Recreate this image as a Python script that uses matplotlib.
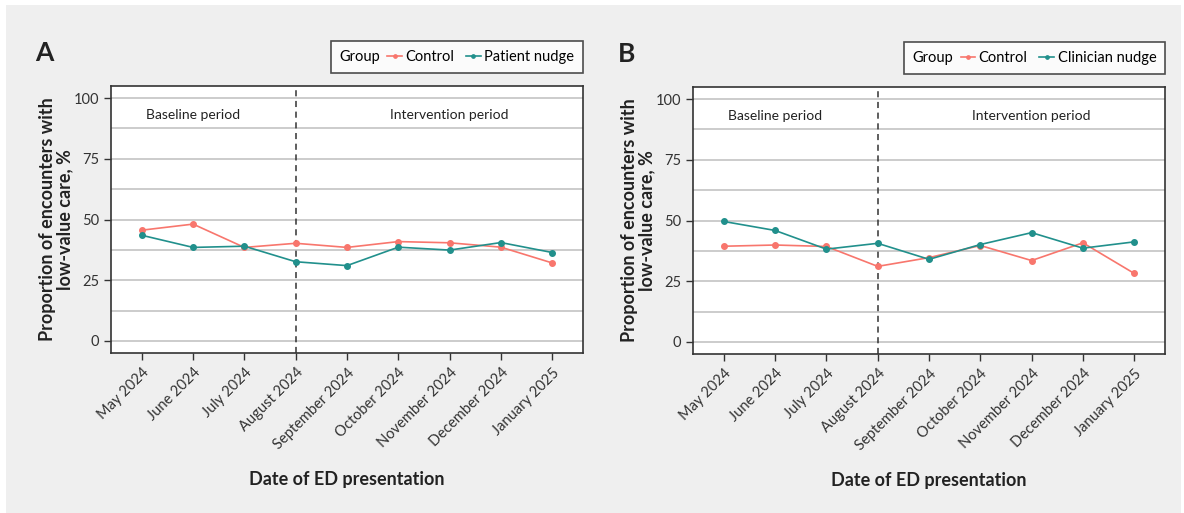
import matplotlib
matplotlib.use("Agg")
import matplotlib.pyplot as plt
from matplotlib.patches import Rectangle
from matplotlib.offsetbox import HPacker

plt.rcParams['font.family'] = ['Lato', 'DejaVu Sans']

# data
months = ["May 2024", "June 2024", "July 2024", "August 2024", "September 2024",
          "October 2024", "November 2024", "December 2024", "January 2025"]

control_a = [45.6, 48.1, 38.5, 40.2, 38.5, 40.9, 40.4, 38.6, 32.1]
patient_nudge = [43.5, 38.5, 39.0, 32.6, 31.0, 38.6, 37.4, 40.5, 36.4]

control_b = [39.4, 39.9, 39.3, 31.1, 34.7, 39.7, 33.5, 40.8, 28.2]
clinician_nudge = [49.6, 45.9, 38.2, 40.6, 34.0, 40.1, 45.0, 38.6, 41.2]

RED = "#F8766D"
TEAL = "#21908C"
W, H = 1184, 513

fig = plt.figure(figsize=(W / 100, H / 100), dpi=100, facecolor="white")
fig.patches.append(Rectangle((6 / W, 0), 1 - 9 / W, 1 - 5 / H, transform=fig.transFigure,
                             facecolor="#efefef", edgecolor="none", zorder=-10))


def panel(rect, letter, ctrl, nudge, nudge_name):
    ax = fig.add_axes(rect)
    ax.set_facecolor("white")
    x = list(range(len(months)))
    for yv in [0, 12.5, 25, 37.5, 50, 62.5, 75, 87.5, 100]:
        ax.axhline(yv, color="#cccccc", lw=1.4, zorder=0)
    ax.axvline(3, color="#333333", lw=1.1, ls=(0, (4, 3)), zorder=1)
    l1, = ax.plot(x, ctrl, color=RED, lw=1.2, marker="o", ms=4, label="Control", zorder=3)
    l2, = ax.plot(x, nudge, color=TEAL, lw=1.2, marker="o", ms=4, label=nudge_name, zorder=3)
    ax.text(1, 93, "Baseline period", ha="center", va="center", fontsize=10, color="#222222")
    ax.text(6, 93, "Intervention period", ha="center", va="center", fontsize=10, color="#222222")
    ax.set_xlim(-0.6, 8.6)
    ax.set_ylim(-5, 105)
    ax.set_yticks([0, 25, 50, 75, 100])
    ax.set_xticks(x)
    ax.set_xticklabels(months, rotation=45, ha="right", rotation_mode="anchor")
    ax.tick_params(axis="both", labelsize=10.5, colors="#333333", length=5, width=1)
    ax.tick_params(axis="x", pad=4)
    for s in ax.spines.values():
        s.set_color("#333333")
        s.set_linewidth(1.2)
    ax.set_ylabel("Proportion of encounters with\nlow-value care, %", fontsize=13,
                  fontweight="bold", color="#222222", linespacing=1.0)
    ax.yaxis.set_label_coords(-0.081, 0.5)
    ax.set_xlabel("Date of ED presentation", fontsize=13, fontweight="bold",
                  color="#222222", labelpad=14)
    ax.text(-0.16, 1.125, letter, transform=ax.transAxes, fontsize=19, fontweight="bold",
            color="#222222", va="center", ha="left")

    leg = ax.legend(handles=[l1, l2], title="Group", ncol=2, loc="lower right",
                    bbox_to_anchor=(1.0, 1.05), borderaxespad=0, frameon=True,
                    fancybox=False, edgecolor="#222222", fontsize=10.5, title_fontsize=10.5,
                    handlelength=1.0, handletextpad=0.25, columnspacing=0.8,
                    borderpad=0.6, markerscale=0.6)
    leg.get_frame().set_linewidth(1.2)
    # put the legend title on the left of the entries, like ggplot
    old = leg._legend_box
    new = HPacker(pad=old.pad, sep=5, align="center", children=old.get_children())
    new.set_figure(fig)
    new.axes = ax
    new.set_offset(leg._findoffset)
    leg._legend_box = new
    return ax


panel([111 / W, 1 - 353 / H, 472 / W, 267 / H], "A", control_a, patient_nudge, "Patient nudge")
panel([693 / W, 1 - 354 / H, 472 / W, 267 / H], "B", control_b, clinician_nudge, "Clinician nudge")

fig.savefig("out.png", dpi=100, facecolor=fig.get_facecolor())
